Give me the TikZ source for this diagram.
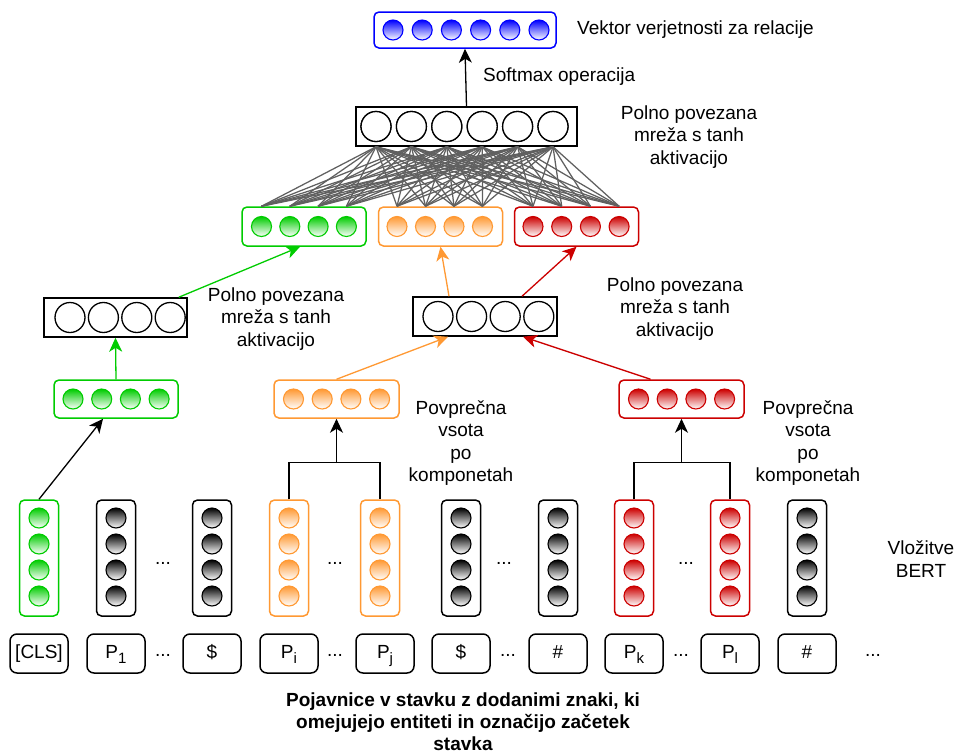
\documentclass[tikz,border=0pt]{standalone}
\usepackage{fontspec}
\setmainfont{Liberation Sans}
\usetikzlibrary{arrows.meta}
\definecolor{cgreen}{HTML}{00CC00}
\definecolor{corange}{HTML}{FF9933}
\definecolor{cred}{HTML}{CC0000}
\definecolor{cblue}{HTML}{0000FF}
\definecolor{cgray}{HTML}{606060}
\newcommand\tsub[1]{\raisebox{-5pt}{\fontsize{15}{15}\selectfont #1}}
\begin{document}
\begin{tikzpicture}[x=1pt,y=-1pt,
  every node/.style={font=\fontsize{19}{22.5}\selectfont},
  txt/.style={inner sep=0pt, align=center},
  vbox/.style={draw=#1, line width=1.5pt, rounded corners=5pt, fill=white, inner sep=0pt},
  fcbox/.style={draw=black, line width=1.5pt, fill=white, inner sep=0pt, minimum height=39pt},
  unit/.style={circle, draw=#1, line width=1.1pt, minimum size=20pt, inner sep=0pt, top color=#1, bottom color=white},
  hid/.style={circle, draw=black, line width=1.3pt, minimum size=30pt, inner sep=0pt, fill=white},
  tok/.style={draw=black, line width=1.5pt, rounded corners=7pt, minimum width=58pt, minimum height=39pt,
              inner sep=0pt, fill=white, text height=13.5pt, text depth=4pt},
  conn/.style={line width=1.3pt, -{Stealth[length=14pt,width=13pt,inset=4pt]}},
  link/.style={line width=1.3pt},
  fcl/.style={draw=cgray, line width=1.25pt},
]
\fill[white] (0,0) rectangle (954,753);
\useasboundingbox (0,0) rectangle (954,753);

% output probability vector
\node[vbox=cblue, minimum width=182pt, minimum height=36pt] (outv) at (465,30) {};
\foreach \i in {0,...,5} \node[unit=cblue] (o\i) at (393+29.2*\i,30) {};
\node[txt, anchor=west] (outlbl) at (577,30) {Vektor verjetnosti za relacije};

% top fully connected layer
\node[fcbox, minimum width=221pt] (fct) at (466.5,126.5) {};
\foreach \i in {0,...,5} \node[hid] (h\i) at (376+35.4*\i,126.5) {};
\node[txt] (fctlbl) at (689,137) {Polno povezana\\mreža s tanh\\aktivacijo};

% concatenated entity / CLS representations
\node[vbox=cgreen, minimum width=124pt, minimum height=39pt] (g2) at (304,226.5) {};
\node[vbox=corange, minimum width=124pt, minimum height=39pt] (or2) at (440.5,226.5) {};
\node[vbox=cred, minimum width=124pt, minimum height=39pt] (r2) at (576.5,226.5) {};
\foreach \i in {0,...,3} {
  \node[unit=cgreen] (g2u\i) at (261.5+28.3*\i,226.5) {};
  \node[unit=corange] (o2u\i) at (397+28.5*\i,226.5) {};
  \node[unit=cred] (r2u\i) at (533+28.7*\i,226.5) {};
}

% dense connections into the top layer
\foreach \s in {g2u0,g2u1,g2u2,g2u3,o2u0,o2u1,o2u2,o2u3,r2u0,r2u1,r2u2,r2u3}
  \foreach \j in {0,...,5}
    \draw[fcl] (\s |- g2.north) -- (h\j |- fct.south);
\foreach \i in {0,...,5} \node[hid] at (h\i) {};

\draw[conn] (fct.north) -- (outv.south);
\node[txt, anchor=west] (smlbl) at (483,77) {Softmax operacija};

% lower fully connected layers
\node[fcbox, minimum width=143pt] (lfc) at (115.5,317.5) {};
\foreach \i in {0,...,3} \node[hid] (lh\i) at (70+33.4*\i,317.5) {};
\node[fcbox, minimum width=144pt] (mfc) at (485,316.5) {};
\foreach \i in {0,...,3} \node[hid] (mh\i) at (438+33.6*\i,316.5) {};
\node[txt] (lfclbl) at (276,319) {Polno povezana\\mreža s tanh\\aktivacijo};
\node[txt] (mfclbl) at (675,309) {Polno povezana\\mreža s tanh\\aktivacijo};

\draw[conn, cgreen] ([xshift=-9pt]lfc.north east) -- ([xshift=-4pt]g2.south);
\draw[conn, corange] ([xshift=-36pt]mfc.north) -- (or2.south);
\draw[conn, cred] ([xshift=37pt]mfc.north) -- (r2.south);

% averaged / CLS vectors
\node[vbox=cgreen, minimum width=124pt, minimum height=38pt] (gl1) at (116,399) {};
\node[vbox=corange, minimum width=125pt, minimum height=38pt] (ol1) at (336.5,399) {};
\node[vbox=cred, minimum width=125pt, minimum height=38pt] (rl1) at (681.5,399) {};
\foreach \i in {0,...,3} {
  \node[unit=cgreen] (g1u\i) at (73+28.7*\i,399) {};
  \node[unit=corange] (o1u\i) at (293.5+28.7*\i,399) {};
  \node[unit=cred] (r1u\i) at (638.5+28.7*\i,399) {};
}
\draw[conn, cgreen] (gl1.north) -- (lfc.south);
\draw[conn, corange] (ol1.north) -- ([xshift=-37pt]mfc.south);
\draw[conn, cred] ([xshift=-31pt]rl1.north) -- ([xshift=38pt]mfc.south);

\node[txt] (avg1) at (461,443) {Povprečna\\vsota\\po\\komponetah};
\node[txt] (avg2) at (808,443) {Povprečna\\vsota\\po\\komponetah};

% BERT embeddings
\foreach \x/\c/\n in {39/cgreen/1, 116/black/2, 212/black/3, 289/corange/4, 380/corange/5,
                      461/black/6, 558/black/7, 634/cred/8, 730/cred/9, 807/black/10} {
  \node[vbox=\c, minimum width=39pt, minimum height=116pt] (e\n) at (\x,558) {};
  \foreach \k in {0,...,3} \node[unit=\c] (e\n u\k) at (\x,518+26*\k) {};
}
\foreach \x in {163,335,504,686} \node[txt] at (\x,563) {...};
\node[txt] (bertlbl) at (921,559) {Vložitve\\BERT};

% merging entity tokens
\draw[link] (e4.north) -- ++(0,-37) -| (e5.north);
\coordinate (ojoin) at (336.5,463);
\draw[conn] (ojoin) -- (ol1.south);
\draw[link] (e8.north) -- ++(0,-37) -| (e9.north);
\coordinate (rjoin) at (681.5,463);
\draw[conn] (rjoin) -- (rl1.south);
\draw[conn] (e1.north) -- ([xshift=-13pt]gl1.south);

% input tokens
\node[tok] (t1) at (39,653.5) {[CLS]};
\node[tok] (t2) at (116,653.5) {P\tsub{1}};
\node[tok] (t3) at (212,653.5) {\$};
\node[tok] (t4) at (289,653.5) {P\tsub{i}};
\node[tok] (t5) at (385,653.5) {P\tsub{j}};
\node[tok] (t6) at (461,653.5) {\$};
\node[tok] (t7) at (558,653.5) {\#};
\node[tok] (t8) at (634,653.5) {P\tsub{k}};
\node[tok] (t9) at (730,653.5) {P\tsub{l}};
\node[tok] (t10) at (807,653.5) {\#};
\foreach \x in {163,335,508,681,873} \node[txt] at (\x,655) {...};

\node[txt, font=\fontsize{19}{22}\selectfont\bfseries] (caption) at (463,722)
  {Pojavnice v stavku z dodanimi znaki, ki\\omejujejo entiteti in označijo začetek\\stavka};
\end{tikzpicture}
\end{document}
